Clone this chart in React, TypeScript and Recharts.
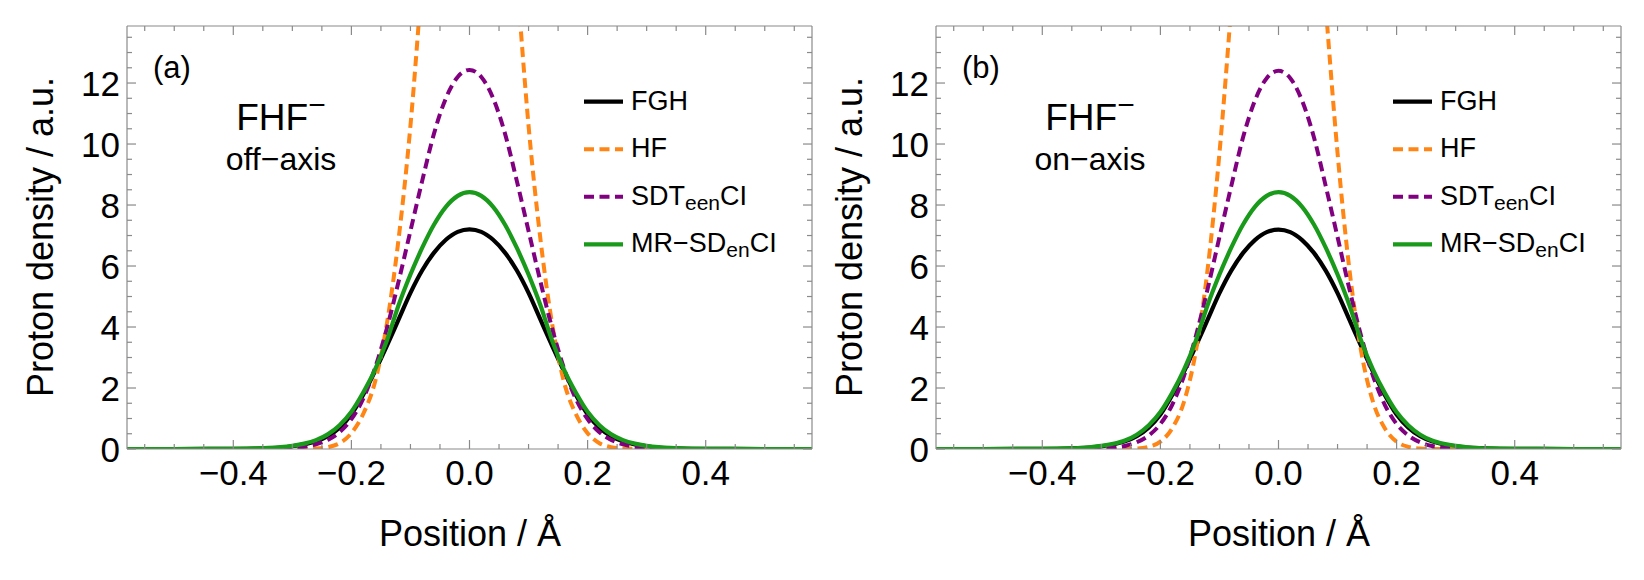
import React from 'react';
import { LineChart, Line, XAxis, YAxis } from 'recharts';

// ---------- data ----------
const positions = [
  -0.58, -0.5, -0.44, -0.4, -0.36, -0.34, -0.32, -0.3, -0.28, -0.26, -0.24, -0.22, -0.2, -0.18, -0.16, -0.14,
  -0.12, -0.1, -0.08, -0.06, -0.04, -0.02, 0, 0.02, 0.04, 0.06, 0.08, 0.1, 0.12, 0.14, 0.16, 0.18, 0.2, 0.22,
  0.24, 0.26, 0.28, 0.3, 0.32, 0.34, 0.36, 0.4, 0.44, 0.5, 0.58,
];

// panel (a) off-axis
const fghOff = [0, 0, 0.001, 0.004, 0.015, 0.028, 0.05, 0.09, 0.15, 0.25, 0.42, 0.7, 1.14, 1.78, 2.55, 3.38, 4.25, 5.12, 5.86, 6.44, 6.86, 7.12, 7.2, 7.12, 6.86, 6.44, 5.86, 5.12, 4.25, 3.38, 2.55, 1.78, 1.14, 0.7, 0.42, 0.25, 0.15, 0.09, 0.05, 0.028, 0.015, 0.004, 0.001, 0, 0];
const hfOff = [0, 0, 0, 0, 0, 0, 0, 0, 0.003, 0.015, 0.06, 0.19, 0.52, 1.15, 2.2, 4.1, 6.9, 10.6, 15.5, 20.6, 25.4, 28.8, 30, 28.8, 25.4, 20.6, 15.5, 10.6, 6.9, 4.1, 2.2, 1.15, 0.52, 0.19, 0.06, 0.015, 0.003, 0, 0, 0, 0, 0, 0, 0, 0];
const sdtOff = [0, 0, 0, 0, 0.002, 0.006, 0.015, 0.035, 0.075, 0.155, 0.3, 0.55, 0.98, 1.65, 2.65, 3.95, 5.5, 7.15, 8.8, 10.35, 11.5, 12.2, 12.43, 12.2, 11.5, 10.35, 8.8, 7.15, 5.5, 3.95, 2.65, 1.65, 0.98, 0.55, 0.3, 0.155, 0.075, 0.035, 0.015, 0.006, 0.002, 0, 0, 0, 0];
const mrOff = [0, 0, 0.001, 0.005, 0.019, 0.034, 0.06, 0.105, 0.175, 0.29, 0.48, 0.78, 1.22, 1.85, 2.6, 3.55, 4.72, 5.72, 6.6, 7.36, 7.94, 8.3, 8.42, 8.3, 7.94, 7.36, 6.6, 5.72, 4.72, 3.55, 2.6, 1.85, 1.22, 0.78, 0.48, 0.29, 0.175, 0.105, 0.06, 0.034, 0.019, 0.005, 0.001, 0, 0];

// panel (b) on-axis
const fghOn = [0, 0, 0.001, 0.004, 0.014, 0.027, 0.049, 0.088, 0.148, 0.25, 0.42, 0.7, 1.13, 1.77, 2.54, 3.37, 4.24, 5.11, 5.85, 6.43, 6.85, 7.11, 7.19, 7.11, 6.85, 6.43, 5.85, 5.11, 4.24, 3.37, 2.54, 1.77, 1.13, 0.7, 0.42, 0.25, 0.148, 0.088, 0.049, 0.027, 0.014, 0.004, 0.001, 0, 0];
const hfOn = [0, 0, 0, 0, 0, 0, 0, 0, 0, 0.003, 0.015, 0.07, 0.24, 0.68, 1.55, 3.2, 5.9, 9.7, 14.5, 19.6, 24.4, 27.8, 29, 27.8, 24.4, 19.6, 14.5, 9.7, 5.9, 3.2, 1.55, 0.68, 0.24, 0.07, 0.015, 0.003, 0, 0, 0, 0, 0, 0, 0, 0, 0];
const sdtOn = [0, 0, 0, 0, 0, 0.002, 0.006, 0.016, 0.042, 0.1, 0.22, 0.44, 0.82, 1.45, 2.4, 3.7, 5.25, 6.95, 8.62, 10.22, 11.42, 12.16, 12.4, 12.16, 11.42, 10.22, 8.62, 6.95, 5.25, 3.7, 2.4, 1.45, 0.82, 0.44, 0.22, 0.1, 0.042, 0.016, 0.006, 0.002, 0, 0, 0, 0, 0];
const mrOn = [0, 0, 0.001, 0.005, 0.018, 0.032, 0.058, 0.1, 0.17, 0.28, 0.47, 0.77, 1.21, 1.84, 2.6, 3.55, 4.72, 5.72, 6.6, 7.36, 7.94, 8.3, 8.42, 8.3, 7.94, 7.36, 6.6, 5.72, 4.72, 3.55, 2.6, 1.84, 1.21, 0.77, 0.47, 0.28, 0.17, 0.1, 0.058, 0.032, 0.018, 0.005, 0.001, 0, 0];

// ticks
const xTicks = [-0.55, -0.5, -0.45, -0.4, -0.35, -0.3, -0.25, -0.2, -0.15, -0.1, -0.05, 0, 0.05, 0.1, 0.15, 0.2, 0.25, 0.3, 0.35, 0.4, 0.45, 0.5, 0.55];
const xMajorTicks = [-0.4, -0.2, 0, 0.2, 0.4];
const xMajorLabels = ['\u22120.4', '\u22120.2', '0.0', '0.2', '0.4'];
const yTicks = [0, 0.5, 1, 1.5, 2, 2.5, 3, 3.5, 4, 4.5, 5, 5.5, 6, 6.5, 7, 7.5, 8, 8.5, 9, 9.5, 10, 10.5, 11, 11.5, 12, 12.5, 13, 13.5];
const yMajorTicks = [0, 2, 4, 6, 8, 10, 12];
const yMajorLabels = ['0', '2', '4', '6', '8', '10', '12'];

const xDomain = [-0.58, 0.58];
const yDomain = [0, 13.87];

const seriesNames = ['FGH', 'HF', 'SDT', 'MR'];
const seriesColors = ['#000000', '#ff8514', '#800080', '#1a9a1a'];

// ---------- styling ----------
const FONT = '"Liberation Sans", Arial, Helvetica, sans-serif';
const FRAME = '#8a8a8a';
const CW = 822;
const CH = 580;
const SOLID_W = 4.2;
const DASH_W = 4;
const DASH = '10 5.5';

const findIdx = (v: number, arr: number[]) => arr.findIndex((m) => Math.abs(m - v) < 1e-6);

const XTick = (props: any) => {
  const { x, y, payload, side } = props;
  const i = findIdx(payload.value, xMajorTicks);
  const len = i >= 0 ? 9 : 5;
  const dir = side === 'bottom' ? -1 : 1;
  return (
    <g>
      <line x1={x} x2={x} y1={y} y2={y + dir * len} stroke={FRAME} strokeWidth={1.2} />
      {side === 'bottom' && i >= 0 && (
        <text x={x} y={y + 36} textAnchor="middle" fontSize={35} fontFamily={FONT} fill="#000">
          {xMajorLabels[i]}
        </text>
      )}
    </g>
  );
};

const YTick = (props: any) => {
  const { x, y, payload, side } = props;
  const i = findIdx(payload.value, yMajorTicks);
  const len = i >= 0 ? 9 : 5;
  const dir = side === 'left' ? 1 : -1;
  return (
    <g>
      <line x1={x} x2={x + dir * len} y1={y} y2={y} stroke={FRAME} strokeWidth={1.2} />
      {side === 'left' && i >= 0 && (
        <text x={x - 7} y={y} textAnchor="end" dominantBaseline="central" fontSize={35} fontFamily={FONT} fill="#000">
          {yMajorLabels[i]}
        </text>
      )}
    </g>
  );
};

type PanelProps = {
  left: number;
  tag: string;
  sub: string;
  fgh: number[];
  hf: number[];
  sdt: number[];
  mr: number[];
};

const Panel = ({ left, tag, sub, fgh, hf, sdt, mr }: PanelProps) => {
  const data = positions.map((x, i) => ({ x, FGH: fgh[i], HF: hf[i], SDT: sdt[i], MR: mr[i] }));
  const axisLine = { stroke: FRAME, strokeWidth: 1.2 };
  const legendRows = [101.7, 149.3, 196.7, 244.3];
  const lx = 584;
  const tx = 631;
  return (
    <div style={{ position: 'absolute', left, top: 0, width: CW, height: CH }}>
      <LineChart width={CW} height={CH} data={data} margin={{ left: 67, right: 0, top: 16, bottom: 101 }}>
        <XAxis
          dataKey="x"
          type="number"
          domain={xDomain}
          allowDataOverflow
          ticks={xTicks}
          interval={0}
          height={30}
          tickSize={0}
          tickMargin={0}
          tickLine={false}
          axisLine={axisLine}
          tick={(p: any) => <XTick {...p} side="bottom" />}
        />
        <XAxis
          xAxisId="top"
          orientation="top"
          dataKey="x"
          type="number"
          domain={xDomain}
          allowDataOverflow
          ticks={xTicks}
          interval={0}
          height={10}
          tickSize={0}
          tickMargin={0}
          tickLine={false}
          axisLine={axisLine}
          tick={(p: any) => <XTick {...p} side="top" />}
        />
        <YAxis
          type="number"
          domain={yDomain}
          allowDataOverflow
          ticks={yTicks}
          interval={0}
          width={60}
          tickSize={0}
          tickMargin={0}
          tickLine={false}
          axisLine={axisLine}
          tick={(p: any) => <YTick {...p} side="left" />}
        />
        <YAxis
          yAxisId="right"
          orientation="right"
          type="number"
          domain={yDomain}
          allowDataOverflow
          ticks={yTicks}
          interval={0}
          width={10}
          tickSize={0}
          tickMargin={0}
          tickLine={false}
          axisLine={axisLine}
          tick={(p: any) => <YTick {...p} side="right" />}
        />
        <Line dataKey="FGH" type="monotone" stroke={seriesColors[0]} strokeWidth={SOLID_W} dot={false} isAnimationActive={false} />
        <Line dataKey="HF" type="monotone" stroke={seriesColors[1]} strokeWidth={DASH_W} strokeDasharray={DASH} dot={false} isAnimationActive={false} />
        <Line dataKey="SDT" type="monotone" stroke={seriesColors[2]} strokeWidth={DASH_W} strokeDasharray={DASH} dot={false} isAnimationActive={false} />
        <Line dataKey="MR" type="monotone" stroke={seriesColors[3]} strokeWidth={SOLID_W} dot={false} isAnimationActive={false} />
      </LineChart>
      <svg width={CW} height={CH} style={{ position: 'absolute', left: 0, top: 0, pointerEvents: 'none' }} fontFamily={FONT}>
        <text x={153} y={78} fontSize={31} fill="#000">{tag}</text>
        <text x={281} y={130} fontSize={37} textAnchor="middle" fill="#000">
          FHF<tspan fontSize={30} dy={-15}>{'\u2212'}</tspan>
        </text>
        <text x={281} y={170} fontSize={32} textAnchor="middle" fill="#000">{sub}</text>
        {seriesNames.map((n, i) => (
          <line
            key={n}
            x1={lx}
            x2={lx + 39}
            y1={legendRows[i]}
            y2={legendRows[i]}
            stroke={seriesColors[i]}
            strokeWidth={i === 0 || i === 3 ? SOLID_W : DASH_W}
            strokeDasharray={i === 1 || i === 2 ? DASH : undefined}
          />
        ))}
        <text x={tx} y={legendRows[0] + 8} fontSize={27} fill="#000">FGH</text>
        <text x={tx} y={legendRows[1] + 8} fontSize={27} fill="#000">HF</text>
        <text x={tx} y={legendRows[2] + 8} fontSize={27} fill="#000">
          SDT<tspan fontSize={21} dy={5}>een</tspan><tspan fontSize={27} dy={-5}>CI</tspan>
        </text>
        <text x={tx} y={legendRows[3] + 8} fontSize={27} fill="#000">
          MR{'\u2212'}SD<tspan fontSize={21} dy={5}>en</tspan><tspan fontSize={27} dy={-5}>CI</tspan>
        </text>
        <text transform="translate(53,237) rotate(-90)" textAnchor="middle" fontSize={36} fill="#000">
          Proton density / a.u.
        </text>
        <text x={470} y={546} textAnchor="middle" fontSize={36} fill="#000">Position / Å</text>
      </svg>
    </div>
  );
}

export default function App() {
  return (
    <div style={{ position: 'absolute', left: 0, top: 0, width: 1644, height: 580, background: '#fff', overflow: 'hidden' }}>
      <Panel left={0} tag="(a)" sub={'off\u2212axis'} fgh={fghOff} hf={hfOff} sdt={sdtOff} mr={mrOff} />
      <Panel left={809} tag="(b)" sub={'on\u2212axis'} fgh={fghOn} hf={hfOn} sdt={sdtOn} mr={mrOn} />
    </div>
  );
}
